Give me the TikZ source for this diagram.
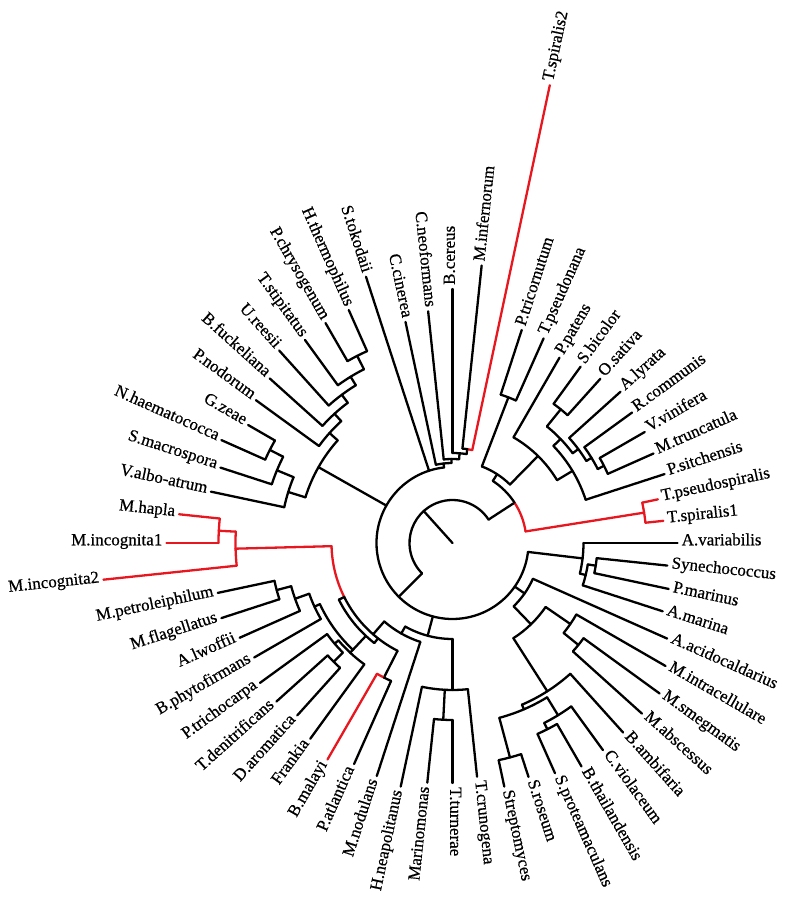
\documentclass[tikz,border=0pt]{standalone}
\usepackage{fontspec}
\setmainfont{Liberation Serif}
\newfontfamily\labfont{Liberation Serif}[FakeBold=0.6]
\definecolor{tred}{RGB}{232,22,30}
\tikzset{
  br/.style={line width=2.3pt,line cap=round,line join=round},
  lab/.style={font=\labfont\fontsize{17}{17}\selectfont,inner xsep=4pt,inner ysep=0pt}
}
\newcommand\Arc[4][]{\draw[br,#1] (#3:#2pt) arc[start angle=#3,end angle=#4,radius=#2pt];}
\newcommand\Rad[4][]{\draw[br,#1] (#2:#3pt) -- (#2:#4pt);}
\newcommand\LeafR[6][]{%
  \coordinate (#2t) at (#3:#5pt);
  \node[lab,anchor=mid west,rotate=#3] (#2) at (#2t) {#6};
  \draw[br,#1] (#3:#4pt) -- (#2t);}
\newcommand\LeafL[6][]{%
  \coordinate (#2t) at (#3:#5pt);
  \node[lab,anchor=mid east,rotate=#3-180] (#2) at (#2t) {#6};
  \draw[br,#1] (#3:#4pt) -- (#2t);}
\begin{document}
\begin{tikzpicture}
\useasboundingbox (-452.5pt,-357pt) rectangle (333.5pt,543pt);
% root
\Rad{132}{0}{43}
\Arc{43}{33}{225}
\Rad{33}{43}{74}
\Rad{225}{43}{76}
% R1 : plants and T.spiralis1 clade
\Arc[tred]{74}{9}{33}
\Arc{74}{33}{57}
\Rad[tred]{9}{74}{194}
\Arc[tred]{194}{6}{12}
\LeafR[tred]{Tps}{12}{194}{210}{T.pseudospiralis}
\LeafR[tred]{Tsa}{6}{194}{212}{T.spiralis1}
\Rad{57}{74}{82}
\Arc{82}{45.5}{69}
\Rad{69}{82}{156}
\Arc{156}{66}{72}
\LeafR{Ptr}{72}{156}{224}{P.tricornutum}
\LeafR{Tpn}{66}{156}{224}{T.pseudonana}
\Rad{45.5}{82}{122}
\Arc{122}{31}{60}
\LeafR{Ppa}{60}{122}{214}{P.patens}
\Rad{31}{122}{140}
\Arc{140}{18}{43.9}
\LeafR{Psi}{18}{140}{223}{P.sitchensis}
\Rad{43.9}{140}{150}
\Arc{150}{36.75}{51}
\Rad{51}{150}{172}
\Arc{172}{48}{54}
\LeafR{Sbi}{54}{172}{218}{S.bicolor}
\LeafR{Osa}{48}{172}{221}{O.sativa}
\Rad{36.75}{150}{157}
\Arc{157}{31.5}{42}
\LeafR{Aly}{42}{157}{226}{A.lyrata}
\Rad{31.5}{157}{163}
\Arc{163}{27}{36}
\LeafR{Rco}{36}{163}{222}{R.communis}
\Rad{27}{163}{170}
\Arc{170}{24}{30}
\LeafR{Vvi}{30}{170}{222}{V.vinifera}
\LeafR{Mtr}{24}{170}{220}{M.truncatula}
% R2 main arc
\Arc{76}{96.4}{353.25}
% top ladder
\Rad{96.4}{76}{80}
\Arc{80}{90.75}{102}
\LeafL{Cci}{102}{80}{226}{C.cinerea}
\Rad{90.75}{80}{84}
\Arc{84}{85.5}{96}
\LeafL{Cne}{96}{84}{233}{C.neoformans}
\Rad{85.5}{84}{90}
\Arc{90}{81}{90}
\LeafR{Bce}{90}{90}{254}{B.cereus}
\Rad{81}{90}{95}
\Arc[tred]{95}{78}{81}
\Arc{95}{81}{84}
\LeafR[tred]{Tsb}{78}{95}{468}{T.spiralis2}
\LeafR{Mif}{84}{95}{279}{M.infernorum}
\LeafL{Sto}{108}{76}{280}{S.tokodaii}
% fungi
\Rad{150.5}{76}{154}
\Arc{154}{138.2}{162.75}
\Rad{138.2}{154}{165}
\Arc{165}{132.4}{144}
\LeafL{Pno}{144}{165}{243}{P.nodorum}
\Rad{132.4}{165}{175}
\Arc{175}{126.75}{138}
\LeafL{Bfu}{138}{175}{246}{B.fuckeliana}
\Rad{126.75}{175}{185}
\Arc{185}{121.5}{132}
\LeafL{Ure}{132}{185}{259}{U.reesii}
\Rad{121.5}{185}{195}
\Arc{195}{117}{126}
\LeafL{Tst}{126}{195}{251}{T.stipitatus}
\Rad{117}{195}{210}
\Arc{210}{114}{120}
\LeafL{Hth}{114}{210}{255}{H.thermophilus}
\LeafL{Pch}{120}{210}{254}{P.chrysogenum}
\Rad{162.75}{154}{172}
\Arc{172}{157.5}{168}
\LeafL{Val}{168}{172}{247}{V.albo-atrum}
\Rad{157.5}{172}{190}
\Arc{190}{153}{162}
\LeafL{Sma}{162}{190}{244}{S.macrospora}
\Rad{153}{190}{205}
\Arc{205}{150}{156}
\LeafL{Gze}{150}{205}{236}{G.zeae}
\LeafL{Nha}{156}{205}{253}{N.haematococca}
% red Meloidogyne clade
\Arc[tred]{121}{181.5}{206.5}
\Arc{121}{206.5}{243}
\Rad[tred]{181.5}{121}{217}
\Arc[tred]{217}{177}{186}
\Rad[tred]{177}{217}{234}
\Arc[tred]{234}{174}{180}
\LeafL[tred]{Mha}{174}{234}{275}{M.hapla}
\LeafL[tred]{Mia}{180}{234}{286}{M.incognita1}
\LeafL[tred]{Mib}{186}{217}{351}{M.incognita2}
% lower left bacteria
\Rad{206.5}{121}{127}
\Arc{127}{206.5}{232}
\Rad{232}{121}{127}
\Rad{227}{127}{150}
\Arc{146}{204.75}{227}
\Rad{204.75}{146}{152}
\Arc{152}{199.5}{210}
\LeafL{Bph}{210}{152}{229}{B.phytofirmans}
\Rad{199.5}{152}{167}
\Arc{167}{195}{204}
\LeafL{Alw}{204}{167}{233}{A.lwoffii}
\Rad{195}{167}{182}
\Arc{182}{192}{198}
\LeafL{Mpe}{192}{182}{240}{M.petroleiphilum}
\LeafL{Mfl}{198}{182}{243}{M.flagellatus}
\Arc{150}{220.5}{234}
\LeafL{Fra}{234}{150}{242}{Frankia}
\Rad{220.5}{150}{155}
\Arc{155}{216}{225}
\LeafL{Ptc}{216}{155}{238}{P.trichocarpa}
\Rad{225}{155}{168}
\Arc{168}{222}{228}
\LeafL{Tde}{222}{168}{237}{T.denitrificans}
\LeafL{Dar}{228}{168}{232}{D.aromatica}
% B.malayi group
\Rad{243}{121}{151}
\Arc[tred]{151}{240}{243}
\Arc{151}{243}{246}
\LeafL[tred]{Bma}{240}{151}{250}{B.malayi}
\LeafL{Pat}{246}{151}{242}{P.atlantica}
\Rad{229}{104}{121}
\Arc{104}{229}{252}
\LeafL{Mno}{252}{104}{245}{M.nodulans}
\Rad{240.5}{96}{104}
\Arc{96}{240.5}{270}
\Rad{255}{76}{96}
% gamma group
\Rad{270}{96}{147}
\Arc{147}{258}{276}
\LeafL{Hne}{258}{147}{249}{H.neapolitanus}
\LeafR{Tcr}{276}{147}{235}{T.crunogena}
\Rad{267}{147}{177}
\Arc{177}{264}{270}
\LeafL{Mar}{264}{177}{241}{Marinomonas}
\LeafR{Ttu}{270}{177}{240}{T.turnerae}
% lower right
\Rad{325}{76}{88}
\Arc{88}{314}{336}
\LeafR{Aac}{336}{88}{235}{A.acidocaldarius}
\Rad{314}{88}{113}
\Arc{113}{302.6}{325.5}
\Rad{325.5}{113}{143}
\Arc{143}{321}{330}
\LeafR{Mit}{330}{143}{246}{M.intracellulare}
\Rad{321}{143}{162}
\Arc{162}{318}{324}
\LeafR{Msm}{324}{162}{256}{M.smegmatis}
\LeafR{Mab}{318}{162}{255}{M.abscessus}
\Rad{302.6}{113}{176}
\Arc{176}{293.25}{312}
\LeafR{Bam}{312}{176}{255}{B.ambifaria}
\Rad{293.25}{176}{181}
\Arc{181}{285}{301.5}
\Rad{285}{181}{222}
\Arc{222}{282}{288}
\LeafR{Str}{282}{222}{249}{Streptomyces}
\LeafR{Sro}{288}{222}{246}{S.roseum}
\Rad{301.5}{181}{202}
\Arc{202}{297}{306}
\LeafR{Cvi}{306}{202}{256}{C.violaceum}
\Rad{297}{202}{209}
\Arc{209}{294}{300}
\LeafR{Spr}{294}{209}{252}{S.proteamaculans}
\LeafR{Bth}{300}{209}{258}{B.thailandensis}
% cyanobacteria
\Rad{353.25}{76}{131}
\Arc{131}{346.5}{360}
\LeafR{Ava}{0}{131}{225}{A.variabilis}
\Rad{346.5}{131}{137}
\Arc{137}{342}{351}
\LeafR{Ama}{342}{137}{221}{A.marina}
\Rad{351}{137}{145}
\Arc{145}{348}{354}
\LeafR{Syn}{354}{145}{216}{Synechococcus}
\LeafR{Pma}{348}{145}{221}{P.marinus}
\end{tikzpicture}
\end{document}
